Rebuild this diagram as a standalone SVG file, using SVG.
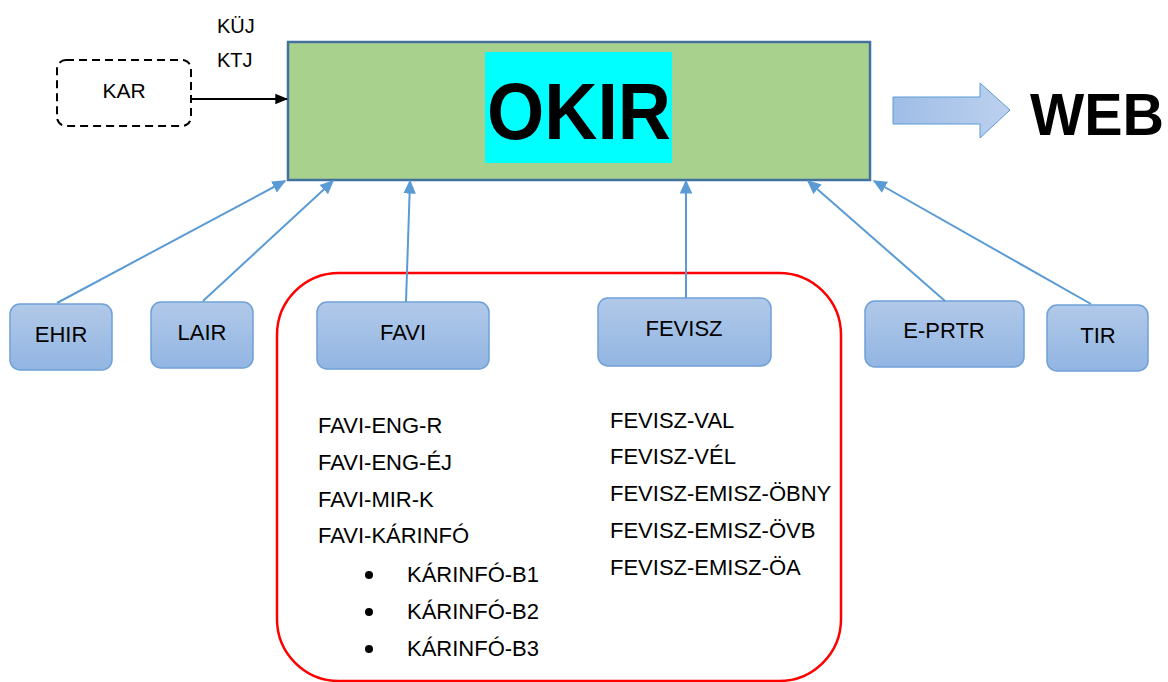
<svg xmlns="http://www.w3.org/2000/svg" width="1168" height="682" viewBox="0 0 1168 682">
<defs>
<linearGradient id="boxg" x1="0" y1="0" x2="0" y2="1">
<stop offset="0" stop-color="#b1c9e9"/>
<stop offset="1" stop-color="#92b5e2"/>
</linearGradient>
<linearGradient id="arrg" x1="0" y1="0" x2="1" y2="0">
<stop offset="0" stop-color="#9fbde6"/>
<stop offset="1" stop-color="#bcd1ee"/>
</linearGradient>
<marker id="ab" viewBox="0 0 10 10" refX="9" refY="5" markerWidth="14" markerHeight="14" markerUnits="userSpaceOnUse" orient="auto">
<path d="M0,0.5 L10,5 L0,9.5 z" fill="#5b9bd5"/>
</marker>
<marker id="ak" viewBox="0 0 10 10" refX="9" refY="5" markerWidth="13" markerHeight="13" markerUnits="userSpaceOnUse" orient="auto">
<path d="M0,1 L10,5 L0,9 z" fill="#000"/>
</marker>
</defs>
<style>
text{font-family:"Liberation Sans",Arial,sans-serif;fill:#000}
.box{fill:url(#boxg);stroke:#6fa0d8;stroke-width:1.5}
.lbl{font-size:22px;text-anchor:middle}
.lst{font-size:22px}
.con{stroke:#5b9bd5;stroke-width:2;fill:none;marker-end:url(#ab)}
</style>
<rect width="1168" height="682" fill="#fff"/>

<g id="okir">
<rect x="288" y="42" width="582" height="138" fill="#a9d18e" stroke="#41719c" stroke-width="2.5"/>
<rect x="485" y="52" width="187" height="111" fill="#00ffff"/>
<text x="579" y="139" font-size="80" font-weight="bold" text-anchor="middle" textLength="184" lengthAdjust="spacingAndGlyphs">OKIR</text>
</g>

<g id="kar">
<rect x="57" y="60" width="134" height="66" rx="9" fill="none" stroke="#000" stroke-width="2" stroke-dasharray="8,5"/>
<text x="124" y="98" font-size="21" text-anchor="middle">KAR</text>
</g>

<g id="kuj-ktj">
<text x="217" y="33" font-size="20">KÜJ</text>
<text x="217" y="67" font-size="20">KTJ</text>
</g>

<g id="web">
<path d="M893,97 L980,97 L980,83 L1010,110 L980,138 L980,124 L893,124 Z" fill="url(#arrg)" stroke="#5b9bd5" stroke-width="1"/>
<text x="1030" y="135" font-size="60" font-weight="bold" textLength="134" lengthAdjust="spacingAndGlyphs">WEB</text>
</g>

<g id="group-frame">
<rect x="277" y="273" width="564" height="408" rx="62" ry="62" fill="none" stroke="#ff0000" stroke-width="2.5"/>
</g>

<g id="ehir">
<rect class="box" x="10" y="304" width="102" height="66" rx="10"/>
<text x="61" y="342" class="lbl">EHIR</text>
</g>
<g id="lair">
<rect class="box" x="151" y="302" width="102" height="66" rx="10"/>
<text x="202" y="340" class="lbl">LAIR</text>
</g>
<g id="favi">
<rect class="box" x="317" y="302" width="172" height="67" rx="10"/>
<text x="403" y="340" class="lbl">FAVI</text>
</g>
<g id="fevisz">
<rect class="box" x="598" y="298" width="173" height="68" rx="10"/>
<text x="684" y="336" class="lbl">FEVISZ</text>
</g>
<g id="eprtr">
<rect class="box" x="865" y="301" width="159" height="66" rx="10"/>
<text x="944" y="338" class="lbl">E-PRTR</text>
</g>
<g id="tir">
<rect class="box" x="1047" y="305" width="101" height="66" rx="10"/>
<text x="1098" y="343" class="lbl">TIR</text>
</g>

<g id="favi-list" class="lst">
<text x="318" y="433">FAVI-ENG-R</text>
<text x="318" y="470">FAVI-ENG-ÉJ</text>
<text x="318" y="507">FAVI-MIR-K</text>
<text x="318" y="543">FAVI-KÁRINFÓ</text>
<circle cx="369" cy="575" r="4"/>
<circle cx="369" cy="612" r="4"/>
<circle cx="369" cy="649" r="4"/>
<text x="407" y="582">KÁRINFÓ-B1</text>
<text x="407" y="619">KÁRINFÓ-B2</text>
<text x="407" y="656">KÁRINFÓ-B3</text>
</g>

<g id="fevisz-list" class="lst">
<text x="610" y="428">FEVISZ-VAL</text>
<text x="610" y="464">FEVISZ-VÉL</text>
<text x="610" y="501">FEVISZ-EMISZ-ÖBNY</text>
<text x="610" y="538">FEVISZ-EMISZ-ÖVB</text>
<text x="610" y="575">FEVISZ-EMISZ-ÖA</text>
</g>

<g id="connectors">
<line x1="191" y1="99" x2="287" y2="99" stroke="#000" stroke-width="2" marker-end="url(#ak)"/>
<line class="con" x1="57" y1="303" x2="285" y2="181"/>
<line class="con" x1="203" y1="301" x2="333" y2="181"/>
<line class="con" x1="406" y1="302" x2="410" y2="181"/>
<line class="con" x1="686" y1="298" x2="686" y2="181"/>
<line class="con" x1="945" y1="301" x2="808" y2="181"/>
<line class="con" x1="1091" y1="304" x2="874" y2="181"/>
</g>
</svg>
